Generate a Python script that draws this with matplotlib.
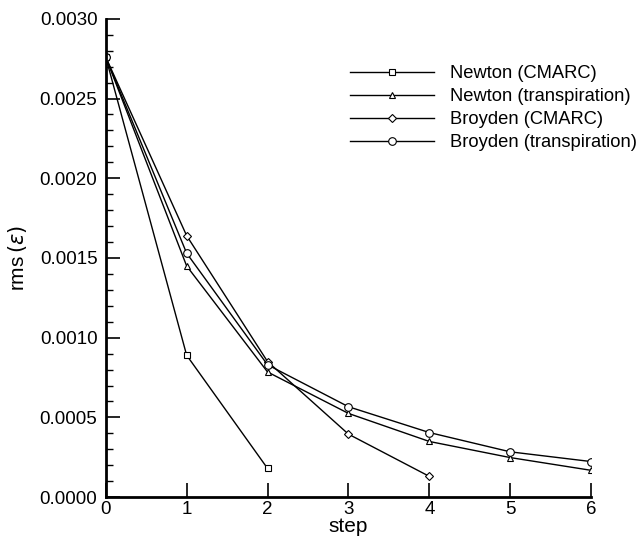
import matplotlib
matplotlib.use("Agg")
import matplotlib.pyplot as plt
from matplotlib.ticker import MultipleLocator, FormatStrFormatter

plt.rcParams['font.family'] = ['Liberation Sans', 'DejaVu Sans']

newton_cmarc_x = [0, 1, 2]
newton_cmarc_y = [0.00276, 0.00089, 0.00018]
newton_transp_x = [0, 1, 2, 3, 4, 5, 6]
newton_transp_y = [0.00276, 0.00145, 0.000785, 0.000525, 0.000349, 0.000248, 0.000168]
broyden_cmarc_x = [0, 1, 2, 3, 4]
broyden_cmarc_y = [0.00276, 0.00164, 0.00085, 0.000395, 0.00013]
broyden_transp_x = [0, 1, 2, 3, 4, 5, 6]
broyden_transp_y = [0.00276, 0.00153, 0.00083, 0.000567, 0.000405, 0.000284, 0.000223]

labels = ["Newton (CMARC)", "Newton (transpiration)", "Broyden (CMARC)", "Broyden (transpiration)"]

fig = plt.figure(figsize=(6.37, 5.38), dpi=100)
ax = fig.add_axes([0.166, 0.076, 0.762, 0.889])

style = dict(color='black', lw=1.0, mfc='white', mec='black', mew=0.8)
ax.plot(newton_cmarc_x, newton_cmarc_y, marker='s', ms=4, label=labels[0], **style)
ax.plot(newton_transp_x, newton_transp_y, marker='^', ms=5, label=labels[1], **style)
ax.plot(broyden_cmarc_x, broyden_cmarc_y, marker='D', ms=4, label=labels[2], **style)
ax.plot(broyden_transp_x, broyden_transp_y, marker='o', ms=5.5, label=labels[3], **style)

ax.set_xlim(0, 6)
ax.set_ylim(0, 0.003)
ax.xaxis.set_major_locator(MultipleLocator(1))
ax.yaxis.set_major_locator(MultipleLocator(0.0005))
ax.yaxis.set_minor_locator(MultipleLocator(0.0001))
ax.yaxis.set_major_formatter(FormatStrFormatter('%.4f'))

for s in ['top', 'right']:
    ax.spines[s].set_visible(False)
for s in ['left', 'bottom']:
    ax.spines[s].set_linewidth(2)

ax.tick_params(axis='both', which='major', direction='in', length=10, width=1.2, labelsize=13.5)
ax.tick_params(axis='y', which='minor', direction='in', length=5, width=1.0)
ax.tick_params(axis='x', pad=3)
ax.tick_params(axis='y', pad=6)

ax.set_xlabel('step', fontsize=15, labelpad=-1)
ax.set_ylabel(r'rms$\,(\varepsilon)$', fontsize=15, labelpad=8)

leg = fig.legend(loc='upper left', bbox_to_anchor=(350/637, 1 - 65/538), frameon=False,
                 fontsize=13.2, handlelength=4.6, handletextpad=0.85, labelspacing=0.33,
                 borderpad=0, borderaxespad=0, numpoints=1)

fig.savefig('out.png', dpi=100)
